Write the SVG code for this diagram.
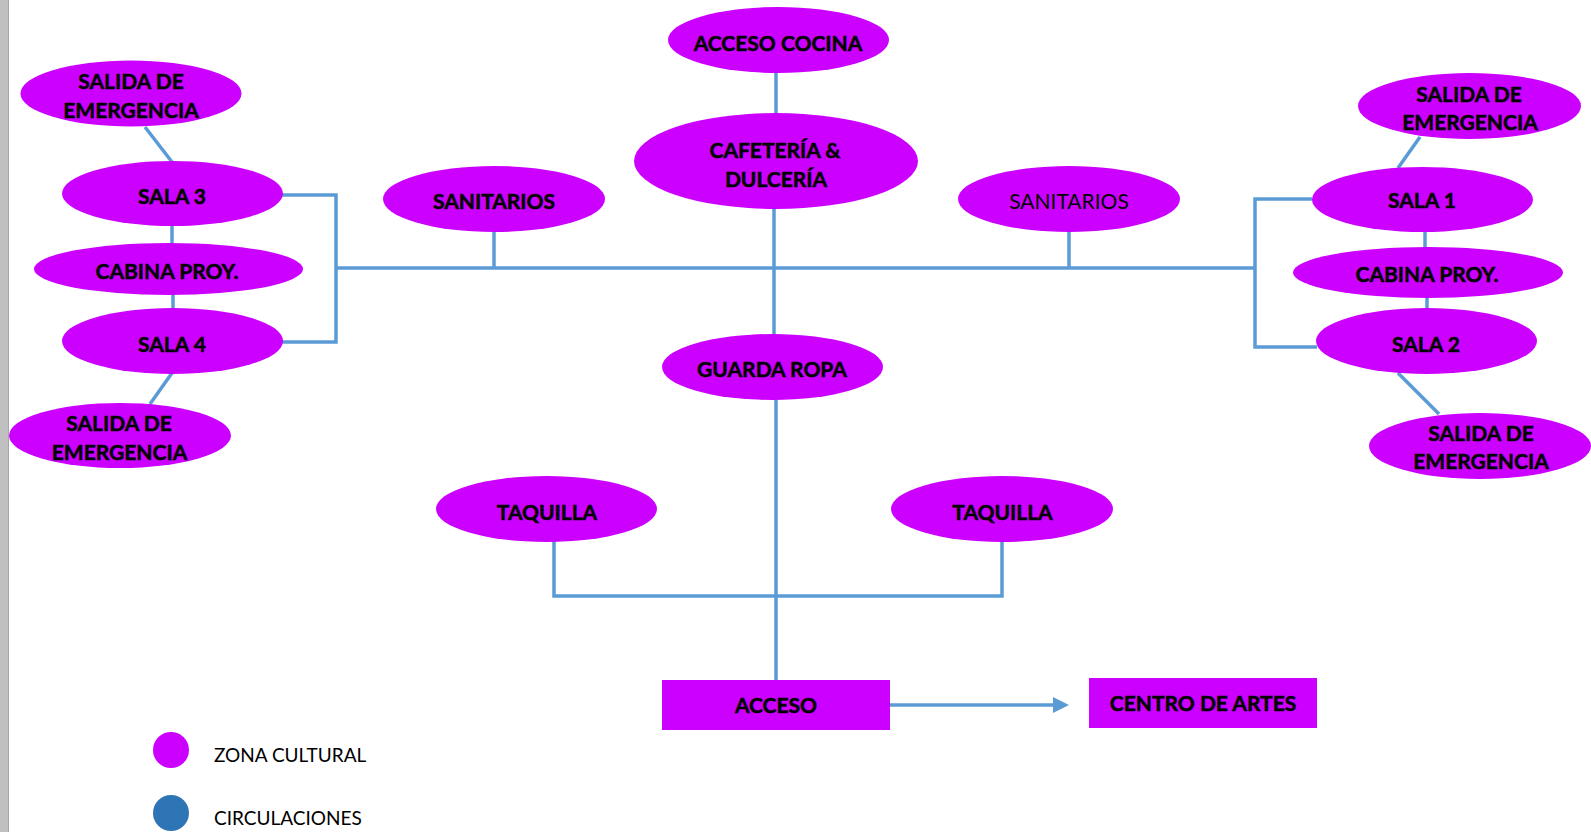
<svg xmlns="http://www.w3.org/2000/svg" width="1591" height="832" viewBox="0 0 1591 832">
<defs>
<style>
.n{fill:#cc00ff;}
.t{font-family:Lato,"Liberation Sans",sans-serif;font-weight:bold;font-size:21px;fill:#000;stroke:#000;stroke-width:0.5;text-anchor:middle;}
.r{font-family:Lato,"Liberation Sans",sans-serif;font-size:21px;fill:#000;text-anchor:middle;}
.lg{font-family:Lato,"Liberation Sans",sans-serif;font-size:19px;fill:#000;}
.c{fill:none;stroke:#5b9bd5;stroke-width:3.5;}
</style>
<marker id="ah" markerWidth="10" markerHeight="10" refX="0" refY="5" orient="auto" markerUnits="userSpaceOnUse" viewBox="0 0 10 10" overflow="visible">
<path d="M0,-3 L16,5 L0,13 Z" fill="#5b9bd5"/>
</marker>
</defs>
<rect x="0" y="0" width="1591" height="832" fill="#fff"/>
<rect x="0" y="0" width="8" height="832" fill="#c0c0c0"/>
<line x1="8.5" y1="0" x2="8.5" y2="832" stroke="#a6a6a6" stroke-width="1"/>

<g id="connectors">
<line class="c" x1="145" y1="127" x2="172" y2="162"/>
<line class="c" x1="172" y1="225" x2="172" y2="245"/>
<line class="c" x1="173" y1="293" x2="173" y2="310"/>
<line class="c" x1="172" y1="373" x2="150" y2="404"/>
<polyline class="c" points="282,195 336,195 336,342 282,342"/>
<line class="c" x1="336" y1="268" x2="1255" y2="268"/>
<line class="c" x1="494" y1="231" x2="494" y2="268"/>
<line class="c" x1="1069" y1="231" x2="1069" y2="268"/>
<line class="c" x1="776" y1="72" x2="776" y2="114"/>
<line class="c" x1="774" y1="208" x2="774" y2="335"/>
<polyline class="c" points="1312,199 1255,199 1255,347 1317,347"/>
<line class="c" x1="1420" y1="137" x2="1398" y2="168"/>
<line class="c" x1="1425" y1="231" x2="1425" y2="248"/>
<line class="c" x1="1427" y1="297" x2="1427" y2="310"/>
<line class="c" x1="1398" y1="373" x2="1439" y2="414"/>
<line class="c" x1="776" y1="399" x2="776" y2="681"/>
<polyline class="c" points="554,541 554,596 1002,596 1002,541"/>
<line class="c" x1="890" y1="705" x2="1053" y2="705" marker-end="url(#ah)"/>
</g>

<g id="salida-sala3">
<ellipse class="n" cx="131" cy="93.5" rx="110.5" ry="33"/>
<text class="t" x="131" y="89">SALIDA DE</text>
<text class="t" x="131" y="118">EMERGENCIA</text>
</g>
<g id="sala3">
<ellipse class="n" cx="172.5" cy="193.5" rx="110.5" ry="32.5"/>
<text class="t" x="172" y="204">SALA 3</text>
</g>
<g id="cabina-izq">
<ellipse class="n" cx="168.5" cy="269" rx="134.5" ry="26"/>
<text class="t" x="167" y="279">CABINA PROY.</text>
</g>
<g id="sala4">
<ellipse class="n" cx="172.5" cy="341" rx="110.5" ry="33"/>
<text class="t" x="172" y="352">SALA 4</text>
</g>
<g id="salida-sala4">
<ellipse class="n" cx="120" cy="435.5" rx="111" ry="32.5"/>
<text class="t" x="119" y="431">SALIDA DE</text>
<text class="t" x="119.5" y="460">EMERGENCIA</text>
</g>
<g id="sanitarios-izq">
<ellipse class="n" cx="494" cy="199" rx="111" ry="33"/>
<text class="t" x="494" y="209">SANITARIOS</text>
</g>
<g id="acceso-cocina">
<ellipse class="n" cx="778.5" cy="40" rx="110.5" ry="33"/>
<text class="t" x="778" y="51">ACCESO COCINA</text>
</g>
<g id="cafeteria">
<ellipse class="n" cx="776" cy="161" rx="142" ry="48"/>
<text class="t" x="775" y="158">CAFETERÍA &amp;</text>
<text class="t" x="776" y="187">DULCERÍA</text>
</g>
<g id="sanitarios-der">
<ellipse class="n" cx="1069" cy="199" rx="111" ry="33"/>
<text class="r" x="1069" y="209">SANITARIOS</text>
</g>
<g id="guarda-ropa">
<ellipse class="n" cx="772.5" cy="367" rx="110.5" ry="33"/>
<text class="t" x="772" y="377">GUARDA ROPA</text>
</g>
<g id="salida-sala1">
<ellipse class="n" cx="1469.5" cy="106" rx="111.5" ry="33"/>
<text class="t" x="1469" y="102">SALIDA DE</text>
<text class="t" x="1470" y="130">EMERGENCIA</text>
</g>
<g id="sala1">
<ellipse class="n" cx="1422.5" cy="199.5" rx="110.5" ry="32.5"/>
<text class="t" x="1422" y="208">SALA 1</text>
</g>
<g id="cabina-der">
<ellipse class="n" cx="1428" cy="272.5" rx="135" ry="25.5"/>
<text class="t" x="1427" y="282">CABINA PROY.</text>
</g>
<g id="sala2">
<ellipse class="n" cx="1426.5" cy="341" rx="110.5" ry="33"/>
<text class="t" x="1426" y="352">SALA 2</text>
</g>
<g id="salida-sala2">
<ellipse class="n" cx="1480" cy="446" rx="111" ry="33"/>
<text class="t" x="1481" y="441">SALIDA DE</text>
<text class="t" x="1481" y="469">EMERGENCIA</text>
</g>
<g id="taquilla-izq">
<ellipse class="n" cx="546.5" cy="509" rx="110.5" ry="33"/>
<text class="t" x="547" y="520">TAQUILLA</text>
</g>
<g id="taquilla-der">
<ellipse class="n" cx="1002" cy="509" rx="111" ry="33"/>
<text class="t" x="1002.5" y="520">TAQUILLA</text>
</g>
<g id="acceso">
<rect class="n" x="662" y="680" width="228" height="50"/>
<text class="t" x="776" y="713">ACCESO</text>
</g>
<g id="centro-artes">
<rect class="n" x="1089" y="678" width="228" height="50"/>
<text class="t" x="1203" y="711">CENTRO DE ARTES</text>
</g>
<g id="leyenda">
<circle cx="171" cy="750" r="18" fill="#cc00ff"/>
<text class="lg" x="214" y="762">ZONA CULTURAL</text>
<circle cx="171" cy="813" r="18" fill="#2e75b6"/>
<text class="lg" x="214" y="825">CIRCULACIONES</text>
</g>
</svg>
